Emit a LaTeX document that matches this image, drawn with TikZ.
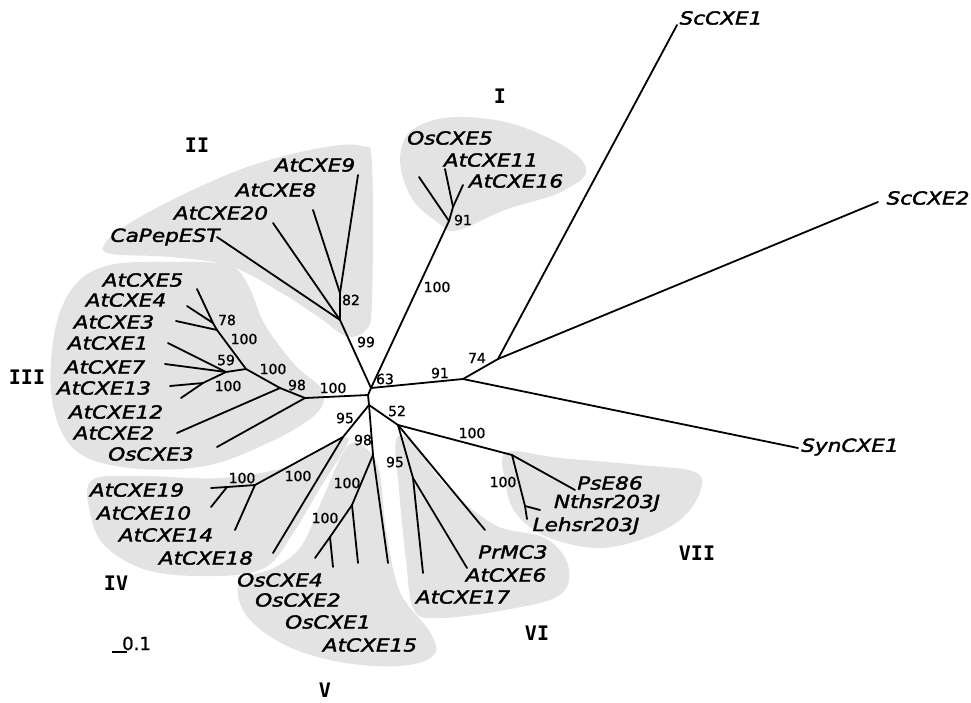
\documentclass[tikz,border=0pt]{standalone}
\usepackage{fontspec}
\setmainfont{DejaVu Sans}
\newfontfamily\leaffont[FakeStretch=1.2,FakeBold=2]{DejaVu Sans Oblique}
\newfontfamily\bsfont[FakeBold=1]{DejaVu Sans}
\newfontfamily\grpfont{DejaVu Sans Mono Bold}
\begin{document}
\begin{tikzpicture}[x=1pt,y=-1pt,
  br/.style={line width=1.8pt,line cap=round,line join=round},
  leaf/.style={font=\leaffont\fontsize{18}{20}\selectfont,inner sep=0pt},
  bs/.style={font=\bsfont\fontsize{14}{15}\selectfont,inner sep=0pt},
  grp/.style={font=\grpfont\fontsize{20}{22}\selectfont,inner sep=0pt},
  shadeblob/.style={fill=black!11,draw=none}]
\useasboundingbox (0,0) rectangle (971,702);
\fill[white] (0,0) rectangle (971,702);

% ---------- shaded groups ----------
\fill[shadeblob] plot[smooth cycle,tension=0.7] coordinates {(401,150) (425,123) (480,118) (540,134) (585,165) (565,190) (505,210) (458,230) (440,224) (410,195)};
\fill[shadeblob] plot[smooth cycle,tension=0.6] coordinates {(104,245) (125,226) (180,196) (250,166) (320,148) (362,146) (372,165) (372,300) (366,330) (346,336) (320,318) (280,292) (230,266) (170,257) (112,254)};
\fill[shadeblob] plot[smooth cycle,tension=0.6] coordinates {(55,330) (75,285) (110,265) (170,262) (228,265) (248,285) (265,325) (295,365) (322,390) (316,414) (270,442) (205,466) (130,468) (75,450) (52,400)};
\fill[shadeblob] plot[smooth cycle,tension=0.6] coordinates {(92,480) (140,476) (220,478) (290,466) (336,441) (348,442) (320,488) (292,535) (266,567) (220,576) (150,571) (105,546) (90,512)};
\fill[shadeblob] plot[smooth cycle,tension=0.6] coordinates {(346,448) (322,500) (302,545) (276,567) (240,582) (246,615) (285,645) (340,662) (400,666) (434,655) (430,632) (400,592) (386,530) (379,470) (363,446)};
\fill[shadeblob] plot[smooth cycle,tension=0.6] coordinates {(396,440) (412,442) (445,485) (495,525) (545,538) (568,565) (560,595) (505,610) (440,618) (414,610) (406,560) (399,490)};
\fill[shadeblob] plot[smooth cycle,tension=0.6] coordinates {(507,452) (560,458) (640,465) (695,472) (700,492) (680,520) (640,540) (595,548) (545,536) (515,512) (505,480)};

% ---------- coordinates ----------
\coordinate (A) at (371,388);
\coordinate (B) at (368,395);
\coordinate (Cc) at (369,405);
\coordinate (R) at (463,379);
\coordinate (n74) at (498,359);
\coordinate (lSc1) at (677,25);
\coordinate (lSc2) at (878,202);
\coordinate (lSyn) at (798,448);
% I
\coordinate (nI) at (449,221);
\coordinate (nI2) at (453,207);
\coordinate (lOs5) at (419,177);
\coordinate (lAt11) at (445,169);
\coordinate (lAt16) at (463,185);
% II
\coordinate (nII) at (340,320);
\coordinate (n82) at (340,293);
\coordinate (lAt9) at (358,175);
\coordinate (lAt8) at (313,210);
\coordinate (lAt20) at (273,223);
\coordinate (lCaP) at (217,237);
% III
\coordinate (nIII) at (305,398);
\coordinate (n98) at (280,388);
\coordinate (n100b) at (246,369);
\coordinate (n100c) at (217,330);
\coordinate (n78) at (213,323);
\coordinate (n59) at (226,372);
\coordinate (n100d) at (203,383);
\coordinate (lAt5) at (197,289);
\coordinate (lAt4) at (187,306);
\coordinate (lAt3) at (176,321);
\coordinate (lAt1) at (168,343);
\coordinate (lAt7) at (165,364);
\coordinate (lAt13) at (170,386);
\coordinate (lAt12) at (181,398);
\coordinate (lAt2) at (177,433);
\coordinate (lOs3) at (217,447);
% IV
\coordinate (n95) at (343,437);
\coordinate (nIVa) at (255,485);
\coordinate (n100e) at (227,487);
\coordinate (lAt19) at (211,488);
\coordinate (lAt10) at (211,507);
\coordinate (lAt14) at (235,530);
\coordinate (lAt18) at (273,553);
% V
\coordinate (n98V) at (373,455);
\coordinate (n100f) at (352,505);
\coordinate (n100h) at (330,537);
\coordinate (lAt15) at (388,563);
\coordinate (lOs1) at (358,563);
\coordinate (lOs2) at (333,567);
\coordinate (lOs4) at (315,558);
% VI
\coordinate (n52) at (398,425);
\coordinate (n95b) at (413,478);
\coordinate (lPr) at (485,530);
\coordinate (lAt6) at (467,568);
\coordinate (lAt17) at (423,573);
% VII
\coordinate (nVII) at (512,455);
\coordinate (n100g) at (525,506);
\coordinate (lPs) at (575,490);
\coordinate (lNt) at (540,510);
\coordinate (lLe) at (527,519);

% ---------- branches ----------
\draw[br] (A) -- (B) -- (Cc);
\draw[br] (A) -- (R) -- (n74) -- (lSc1);
\draw[br] (n74) -- (lSc2);
\draw[br] (R) -- (lSyn);
\draw[br] (A) -- (nI) -- (lOs5);
\draw[br] (nI) -- (nI2) -- (lAt11);
\draw[br] (nI2) -- (lAt16);
\draw[br] (A) -- (nII) -- (n82) -- (lAt9);
\draw[br] (n82) -- (lAt8);
\draw[br] (nII) -- (lAt20);
\draw[br] (nII) -- (lCaP);
\draw[br] (B) -- (nIII) -- (lOs3);
\draw[br] (nIII) -- (n98) -- (lAt2);
\draw[br] (n98) -- (n100b) -- (n100c) -- (n78) -- (lAt5);
\draw[br] (n78) -- (lAt4);
\draw[br] (n100c) -- (lAt3);
\draw[br] (n100b) -- (n59) -- (lAt1);
\draw[br] (n59) -- (lAt7);
\draw[br] (n59) -- (n100d) -- (lAt13);
\draw[br] (n100d) -- (lAt12);
\draw[br] (Cc) -- (n95) -- (lAt18);
\draw[br] (n95) -- (nIVa) -- (lAt14);
\draw[br] (nIVa) -- (n100e) -- (lAt19);
\draw[br] (n100e) -- (lAt10);
\draw[br] (Cc) -- (n98V) -- (lAt15);
\draw[br] (n98V) -- (n100f) -- (lOs1);
\draw[br] (n100f) -- (n100h) -- (lOs2);
\draw[br] (n100h) -- (lOs4);
\draw[br] (Cc) -- (n52) -- (lPr);
\draw[br] (n52) -- (n95b) -- (lAt17);
\draw[br] (n95b) -- (lAt6);
\draw[br] (n52) -- (nVII) -- (lPs);
\draw[br] (nVII) -- (n100g) -- (lLe);
\draw[br] (n100g) -- (lNt);

% ---------- leaf labels ----------
\node[leaf] (tSc1) at (721,18) {ScCXE1};
\node[leaf] (tSc2) at (928,198) {ScCXE2};
\node[leaf] (tSyn) at (850,447) {SynCXE1};
\node[leaf] (tOs5) at (450,138) {OsCXE5};
\node[leaf] (tAt11) at (491,160) {AtCXE11};
\node[leaf] (tAt16) at (516,181) {AtCXE16};
\node[leaf] (tAt9) at (315,165) {AtCXE9};
\node[leaf] (tAt8) at (276,190) {AtCXE8};
\node[leaf] (tAt20) at (221,213) {AtCXE20};
\node[leaf] (tCaP) at (165,237) {CaPepEST};
\node[leaf] (tAt5) at (143,280) {AtCXE5};
\node[leaf] (tAt4) at (126,300) {AtCXE4};
\node[leaf] (tAt3) at (114,322) {AtCXE3};
\node[leaf] (tAt1) at (108,343) {AtCXE1};
\node[leaf] (tAt7) at (105,367) {AtCXE7};
\node[leaf] (tAt13) at (104,388) {AtCXE13};
\node[leaf] (tAt12) at (116,412) {AtCXE12};
\node[leaf] (tAt2) at (114,433) {AtCXE2};
\node[leaf] (tOs3) at (151,454) {OsCXE3};
\node[leaf] (tAt19) at (137,490) {AtCXE19};
\node[leaf] (tAt10) at (144,513) {AtCXE10};
\node[leaf] (tAt14) at (166,535) {AtCXE14};
\node[leaf] (tAt18) at (206,558) {AtCXE18};
\node[leaf] (tOs4) at (280,580) {OsCXE4};
\node[leaf] (tOs2) at (298,600) {OsCXE2};
\node[leaf] (tOs1) at (328,622) {OsCXE1};
\node[leaf] (tAt15) at (370,645) {AtCXE15};
\node[leaf] (tPr) at (513,552) {PrMC3};
\node[leaf] (tAt6) at (506,575) {AtCXE6};
\node[leaf] (tAt17) at (463,597) {AtCXE17};
\node[leaf] (tPs) at (610,483) {PsE86};
\node[leaf] (tNt) at (607,503) {Nthsr203J};
\node[leaf] (tLe) at (586,526) {Lehsr203J};

% ---------- bootstrap values ----------
\node[bs] (b74) at (477,358) {74};
\node[bs] (b91r) at (440,373) {91};
\node[bs] (b63) at (385,379) {63};
\node[bs] (b99) at (366,342) {99};
\node[bs] (b100I) at (437,287) {100};
\node[bs] (b91I) at (463,220) {91};
\node[bs] (b82) at (351,300) {82};
\node[bs] (b100c) at (333,388) {100};
\node[bs] (b98III) at (297,385) {98};
\node[bs] (b100x) at (273,369) {100};
\node[bs] (b100y) at (244,339) {100};
\node[bs] (b78) at (227,320) {78};
\node[bs] (b59) at (226,360) {59};
\node[bs] (b100z) at (228,386) {100};
\node[bs] (b95) at (345,418) {95};
\node[bs] (b98V) at (363,440) {98};
\node[bs] (b52) at (397,411) {52};
\node[bs] (b100VII) at (472,433) {100};
\node[bs] (b100IV) at (298,476) {100};
\node[bs] (b100e) at (242,478) {100};
\node[bs] (b100f) at (347,483) {100};
\node[bs] (b100h) at (325,518) {100};
\node[bs] (b95VI) at (395,462) {95};
\node[bs] (b100g) at (503,482) {100};

% ---------- group labels ----------
\node[grp] (gI) at (500,96) {I};
\node[grp] (gII) at (197,145) {II};
\node[grp] (gIII) at (27,377) {III};
\node[grp] (gIV) at (116,583) {IV};
\node[grp] (gV) at (325,690) {V};
\node[grp] (gVI) at (537,633) {VI};
\node[grp] (gVII) at (697,553) {VII};

% ---------- scale bar ----------
\coordinate (sb1) at (112,652);
\coordinate (sb2) at (127,652);
\draw[line width=1.8pt] (sb1) -- (sb2);
\node[font=\bsfont\fontsize{18}{20}\selectfont,inner sep=0pt,anchor=base west] (sbt) at (122,650) {0.1};
\end{tikzpicture}
\end{document}
